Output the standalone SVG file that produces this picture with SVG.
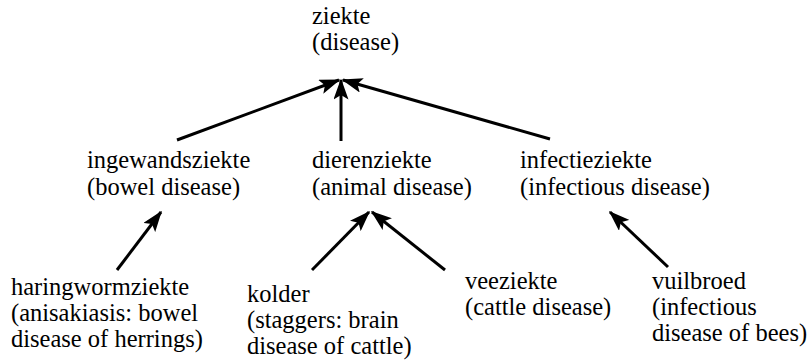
<svg xmlns="http://www.w3.org/2000/svg" width="812" height="364" viewBox="0 0 812 364">
<style>
.c line{stroke:#000;stroke-width:3;marker-end:url(#ah)}
</style>
<defs>
<marker id="ah" markerWidth="7" markerHeight="5" refX="6.5" refY="2.5" orient="auto" markerUnits="strokeWidth">
<path d="M0,0 L7,2.5 L0,5 L1.5,2.5 Z" fill="#000"/>
</marker>
</defs>
<rect width="812" height="364" fill="#fff"/>
<g class="c" id="connectors">
<line x1="177" y1="140" x2="339" y2="80"/>
<line x1="341" y1="141" x2="341" y2="80"/>
<line x1="550" y1="139" x2="343" y2="80"/>
<line x1="117" y1="270" x2="161" y2="212"/>
<line x1="312" y1="270" x2="369" y2="212"/>
<line x1="445" y1="270" x2="372" y2="212"/>
<line x1="668" y1="267" x2="610" y2="212"/>
</g>
<g font-family="Liberation Serif, DejaVu Serif, serif" font-size="24.5" fill="#000">
<g id="ziekte"><text x="312" y="24">ziekte</text><text x="312" y="50">(disease)</text></g>
<g id="ingewandsziekte"><text x="87" y="168">ingewandsziekte</text><text x="87" y="195">(bowel disease)</text></g>
<g id="dierenziekte"><text x="312" y="168">dierenziekte</text><text x="312" y="195">(animal disease)</text></g>
<g id="infectieziekte"><text x="520" y="168">infectieziekte</text><text x="520" y="195">(infectious disease)</text></g>
<g id="haringwormziekte"><text x="11" y="295">haringwormziekte</text><text x="11" y="321">(anisakiasis: bowel</text><text x="11" y="347">disease of herrings)</text></g>
<g id="kolder"><text x="247" y="302">kolder</text><text x="247" y="328">(staggers: brain</text><text x="247" y="354">disease of cattle)</text></g>
<g id="veeziekte"><text x="465" y="289">veeziekte</text><text x="465" y="315">(cattle disease)</text></g>
<g id="vuilbroed"><text x="652" y="289">vuilbroed</text><text x="652" y="315">(infectious</text><text x="652" y="341">disease of bees)</text></g>
</g>
</svg>
